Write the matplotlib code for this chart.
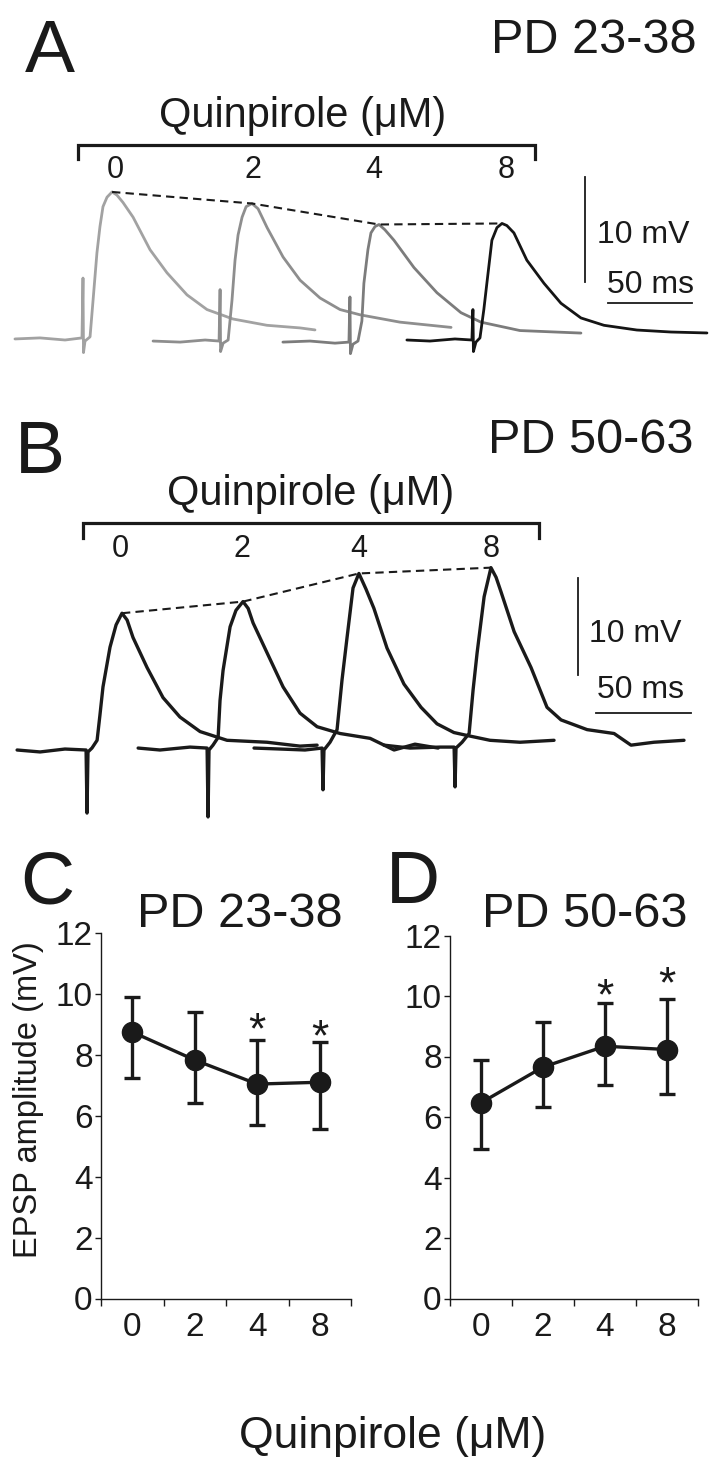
import numpy as np
import matplotlib.pyplot as plt
from matplotlib.lines import Line2D

plt.rcParams['font.family'] = ['Liberation Sans', 'DejaVu Sans']

# ---- data -------------------------------------------------------------
conc_labels = ['0', '2', '4', '8']

# panel A, PD 23-38: example EPSPs (time from stimulus in ms, mV from baseline)
a_t0 = [-40.5, -25.6, -10.7, -0.6, 0, 0.3, 1.2, 4.2, 6.0, 8.3, 10.1, 11.9, 14.3, 17.3,
        20.2, 23.8, 29.8, 39.9, 50.0, 61.9, 73.8, 89.3, 109.5, 129.2, 138.1]
a_v0 = [-0.1, 0, -0.2, 0, 5.7, -1.4, -0.3, 0.1, 3.6, 8.1, 10.6, 12.5, 13.4, 13.9,
        13.6, 12.9, 11.5, 8.4, 6.2, 4.1, 2.7, 1.8, 1.2, 0.95, 0.76]
a_t2 = [-39.9, -23.8, -8.9, -0.6, 0, 0.3, 1.8, 4.8, 7.1, 8.9, 10.7, 13.1, 15.5, 19.0,
        22.6, 28.0, 37.5, 47.6, 59.5, 71.4, 83.3, 107.1, 137.5]
a_v2 = [0, -0.1, 0.1, 0, 4.9, -1.0, -0.2, 0.1, 3.9, 7.7, 10.1, 11.8, 12.8, 13.1,
        12.6, 10.8, 8.0, 5.8, 4.1, 3.0, 2.5, 1.8, 1.3]
a_t4 = [-39.9, -23.8, -8.9, -0.6, 0, 0.3, 1.8, 4.8, 7.1, 8.3, 10.7, 12.5, 14.9, 17.3,
        20.8, 26.2, 38.1, 51.8, 66.1, 78.0, 101.2, 137.5]
a_v4 = [0, 0.1, -0.1, 0, 4.3, -1.1, -0.2, 0.1, 2.0, 5.6, 8.8, 10.4, 11.0, 11.2,
        10.7, 9.7, 7.1, 4.7, 2.8, 1.9, 1.1, 0.86]
a_t8 = [-39.3, -25.6, -10.7, -0.6, 0, 0.3, 1.8, 4.2, 6.5, 8.3, 11.3, 14.3, 17.3, 20.2,
        24.4, 32.1, 42.3, 52.4, 64.3, 78.0, 97.6, 117.9, 139.3]
a_v8 = [0, -0.1, 0.1, 0, 2.9, -1.1, -0.2, 0.2, 2.9, 5.4, 9.5, 10.7, 11.1, 10.9,
        10.2, 7.6, 5.4, 3.5, 2.1, 1.4, 0.95, 0.76, 0.67]
a_stim_ms = [49.4, 131.0, 208.3, 281.5]
a_base_mv = [0.2, -0.1, -0.2, 0.0]

# panel B, PD 50-63
b_t0 = [-36.8, -24.7, -11.6, -0.5, 0, 0.5, 2.6, 5.3, 6.8, 8.4, 12.1, 15.3, 18.4, 21.1,
        24.2, 31.6, 40.0, 48.9, 59.5, 73.7, 94.7, 112.1, 121.1]
b_v0 = [0, -0.2, 0.1, 0, -6.5, -0.2, 0.2, 1.0, 3.6, 6.5, 10.6, 12.9, 14.1, 13.4,
        11.6, 8.5, 5.4, 3.4, 1.9, 1.0, 0.8, 0.4, 0.5]
b_t2 = [-36.8, -25.3, -9.5, -0.5, 0, 0.5, 2.6, 5.3, 6.3, 7.9, 11.6, 14.7, 18.4, 21.1,
        23.7, 31.1, 39.5, 48.4, 57.4, 69.5, 85.3, 97.9, 108.9, 121.1]
b_v2 = [0, -0.2, 0.1, 0, -7.1, -0.2, 0.3, 1.1, 4.9, 8.0, 12.5, 14.2, 15.1, 14.4,
        12.9, 9.8, 6.3, 3.6, 2.2, 1.5, 1.0, -0.2, 0.4, 0]
b_t4 = [-36.3, -22.6, -9.5, -0.5, 0, 0.5, 3.7, 7.4, 10.0, 12.6, 15.8, 18.9, 22.6, 26.8,
        33.7, 42.6, 51.6, 60.0, 68.9, 75.8, 87.9, 103.7, 121.6]
b_v4 = [0, -0.1, -0.2, 0, -4.3, -0.2, 0.6, 1.9, 7.0, 11.3, 16.5, 18.0, 16.4, 14.4,
        10.3, 6.6, 4.2, 2.5, 1.6, 1.3, 0.8, 0.6, 0.8]
b_t8 = [-37.4, -23.7, -7.9, -0.5, 0, 0.5, 3.7, 7.4, 9.5, 11.6, 15.3, 18.9, 21.6, 24.2,
        31.1, 40.0, 48.4, 55.8, 69.5, 83.7, 92.6, 104.7, 120.5]
b_v8 = [0.2, -0.1, 0, 0, -4.1, -0.1, 0.5, 1.4, 5.9, 9.7, 15.5, 18.5, 17.5, 16.0,
        11.9, 8.2, 4.1, 2.8, 1.8, 1.4, 0.2, 0.5, 0.7]
b_stim_ms = [45.8, 109.5, 170.0, 239.5]
b_base_mv = [0.0, 0.2, 0.2, 0.3]

scale_mv = 10
scale_ms = 50

# panels C and D: mean EPSP amplitude (mV) with error bars
c_mean = [8.75, 7.83, 7.04, 7.10]
c_low = [7.24, 6.42, 5.69, 5.55]
c_high = [9.89, 9.42, 8.49, 8.43]
c_star = [None, None, 9.2, 9.0]

d_mean = [6.47, 7.65, 8.34, 8.23]
d_low = [4.95, 6.34, 7.07, 6.77]
d_high = [7.90, 9.13, 9.78, 9.91]
d_star = [None, None, 10.4, 10.8]

# ---- figure -------------------------------------------------------------
W, H = 714, 1467
fig = plt.figure(figsize=(W / 100, H / 100), dpi=100)
ink = '#1a1a1a'


def fx(x):
    return x / W


def fy(y):
    return 1 - y / H


def ftext(x, y, s, **kw):
    kw.setdefault('color', ink)
    fig.text(fx(x), fy(y), s, **kw)


def bracket(x0, x1, y, drop):
    fig.add_artist(Line2D([fx(x0), fx(x0), fx(x1), fx(x1)],
                          [fy(y + drop), fy(y), fy(y), fy(y + drop)],
                          transform=fig.transFigure, color=ink, lw=2.3,
                          solid_joinstyle='miter'))


def trace_panel(ax, times, volts, stims, bases, colors, lw):
    peaks_t, peaks_v = [], []
    for t, v, s, b, c in zip(times, volts, stims, bases, colors):
        t = np.array(t) + s
        v = np.array(v) + b
        ax.plot(t, v, color=c, lw=lw, solid_joinstyle='round', solid_capstyle='round')
        i = np.argmax(v)
        peaks_t.append(t[i])
        peaks_v.append(v[i])
    ax.plot(peaks_t, peaks_v, color=ink, lw=1.5, dashes=(4, 2.5), zorder=5)
    ax.axis('off')


# panel A
ax_a = fig.add_axes([0, fy(400), 1, 400 / H])
ax_a.set_xlim(0, W / 1.68)
ax_a.set_ylim((340 - 400) / 10.5, 340 / 10.5)
trace_panel(ax_a, [a_t0, a_t2, a_t4, a_t8], [a_v0, a_v2, a_v4, a_v8],
            a_stim_ms, a_base_mv, ['#a2a2a2', '#8e8e8e', '#7c7c7c', '#151515'], 2.0)
ax_a.plot([348.2, 348.2], [5.52, 5.52 + scale_mv], color=ink, lw=1.3)
ax_a.plot([361.9, 361.9 + scale_ms], [3.52, 3.52], color=ink, lw=1.3)

# panel B
ax_b = fig.add_axes([0, fy(860), 1, 460 / H])
ax_b.set_xlim(0, W / 1.9)
ax_b.set_ylim((750 - 860) / 9.7, (750 - 400) / 9.7)
trace_panel(ax_b, [b_t0, b_t2, b_t4, b_t8], [b_v0, b_v2, b_v4, b_v8],
            b_stim_ms, b_base_mv, [ink] * 4, 2.4)
ax_b.plot([304.2, 304.2], [7.73, 7.73 + scale_mv], color=ink, lw=1.3)
ax_b.plot([313.7, 313.7 + scale_ms], [3.81, 3.81], color=ink, lw=1.3)

# panel A/B annotations
ftext(25, 72, 'A', fontsize=54, ha='left', va='baseline')
ftext(697, 53, 'PD 23-38', fontsize=35, ha='right', va='baseline')
ftext(303, 127, 'Quinpirole (\u03bcM)', fontsize=30, ha='center', va='baseline')
bracket(78, 535, 145, 14)
for x, s in zip([115, 253, 374, 506], conc_labels):
    ftext(x, 178, s, fontsize=22, ha='center', va='baseline')
ftext(597, 243, '%d mV' % scale_mv, fontsize=23, ha='left', va='baseline')
ftext(607, 293, '%d ms' % scale_ms, fontsize=23, ha='left', va='baseline')

ftext(15, 473, 'B', fontsize=54, ha='left', va='baseline')
ftext(694, 453, 'PD 50-63', fontsize=35, ha='right', va='baseline')
ftext(311, 505, 'Quinpirole (\u03bcM)', fontsize=30, ha='center', va='baseline')
bracket(83, 539, 523, 15)
for x, s in zip([120, 242, 359, 491], conc_labels):
    ftext(x, 557, s, fontsize=22, ha='center', va='baseline')
ftext(589, 642, '%d mV' % scale_mv, fontsize=23, ha='left', va='baseline')
ftext(597, 698, '%d ms' % scale_ms, fontsize=23, ha='left', va='baseline')


# panels C and D
def summary_panel(rect, mean, low, high, star):
    ax = fig.add_axes(rect)
    x = np.arange(len(mean)) + 0.5
    mean = np.array(mean)
    yerr = [mean - np.array(low), np.array(high) - mean]
    ax.errorbar(x, mean, yerr=yerr, fmt='-o', color=ink, lw=2.4, ms=14.5,
                elinewidth=2.4, capsize=6, capthick=2.4, clip_on=False)
    for xi, ys in zip(x, star):
        if ys is not None:
            ax.annotate('*', (xi, ys), xytext=(0, -0.575 * 32), textcoords='offset points',
                        fontsize=32, ha='center', va='baseline', color=ink)
    ax.set_xlim(0, len(mean))
    ax.set_ylim(0, 12)
    ax.set_yticks(range(0, 13, 2))
    ax.set_xticks(range(len(mean) + 1))
    ax.set_xticklabels([])
    ax.set_xticks(x, minor=True)
    ax.set_xticklabels(conc_labels, minor=True)
    ax.tick_params(axis='x', which='major', length=5, width=1, direction='out', color=ink)
    ax.tick_params(axis='x', which='minor', length=0, pad=10, labelsize=24, labelcolor=ink)
    ax.tick_params(axis='y', length=4, width=1, pad=2, labelsize=24, labelcolor=ink, color=ink)
    for side in ['top', 'right']:
        ax.spines[side].set_visible(False)
    for side in ['left', 'bottom']:
        ax.spines[side].set_linewidth(1)
        ax.spines[side].set_color(ink)
    return ax


summary_panel([fx(101), fy(1298.5), 250 / W, 365.5 / H], c_mean, c_low, c_high, c_star)
summary_panel([fx(450), fy(1298.5), 248 / W, 363 / H], d_mean, d_low, d_high, d_star)

ftext(20, 903, 'C', fontsize=54, ha='left', va='baseline')
ftext(137, 927, 'PD 23-38', fontsize=35, ha='left', va='baseline')
ftext(386, 903, 'D', fontsize=54, ha='left', va='baseline')
ftext(482, 927, 'PD 50-63', fontsize=35, ha='left', va='baseline')
ftext(29, 1100, 'EPSP amplitude (mV)', fontsize=23.5, rotation=90, ha='center', va='center')
ftext(393, 1448, 'Quinpirole (\u03bcM)', fontsize=32, ha='center', va='baseline')

fig.savefig('out.png', dpi=100)
